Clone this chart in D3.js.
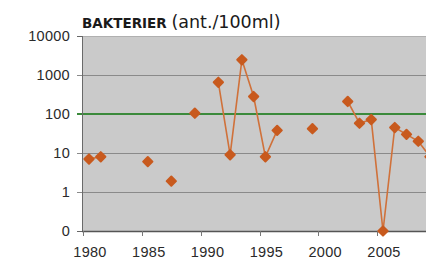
<!DOCTYPE html>
<html>
<head>
<meta charset="utf-8">
<script src="https://cdn.jsdelivr.net/npm/d3@7"></script>
<style>
  body { margin: 0; background: #fff; }
  svg { display: block; }
</style>
</head>
<body>
<div id="chart"></div>
<script>
var years  = [1980, 1981, 1985, 1987, 1989, 1991, 1992, 1993, 1994, 1995, 1996, 1999, 2002, 2003, 2004, 2005, 2006, 2007, 2008, 2009];
var values = [7, 8, 6, 1.9, 105, 650, 9, 2450, 280, 8, 38, 42, 210, 58, 72, 0, 45, 30, 20, 8];

var yTicks = [0, 1, 10, 100, 1000, 10000];
var xTicks = [1980, 1985, 1990, 1995, 2000, 2005];
var limitValue = 100;

var width = 426;
var height = 264;
var plotLeft = 82, plotTop = 36, plotBottom = 231;

var svg = d3.select("#chart")
            .append("svg")
            .attr("width", width)
            .attr("height", height);

// 0 is drawn on the bottom line, one decade below 1
var floorVal = 0.1;
function yv(d) { return Math.max(d, floorVal); }

var y = d3.scaleLog()
          .domain([floorVal, 10000])
          .range([plotBottom, plotTop]);

var x = d3.scaleLinear()
          .domain([1980, 2005])
          .range([89, 383]);

// plot background
svg.append("rect")
   .attr("x", plotLeft)
   .attr("y", plotTop)
   .attr("width", width - plotLeft)
   .attr("height", plotBottom - plotTop)
   .attr("fill", "#cacaca");

svg.append("line")
   .attr("x1", plotLeft).attr("x2", width)
   .attr("y1", plotTop + 0.5).attr("y2", plotTop + 0.5)
   .attr("stroke", "#b0b0b0");

// gridlines + y ticks
svg.selectAll(".grid")
   .data(yTicks.filter(function(d) { return d > 0 && d < 10000 && d != limitValue; }))
   .enter()
   .append("line")
   .attr("class", "grid")
   .attr("x1", plotLeft - 5)
   .attr("x2", width)
   .attr("y1", function(d) { return Math.round(y(yv(d))) + 0.5; })
   .attr("y2", function(d) { return Math.round(y(yv(d))) + 0.5; })
   .attr("stroke", "#8a8a8a")
   .attr("stroke-width", 1);

svg.selectAll(".ytick")
   .data([0, 10000])
   .enter()
   .append("line")
   .attr("x1", plotLeft - 5)
   .attr("x2", plotLeft)
   .attr("y1", function(d) { return Math.round(y(yv(d))) + 0.5; })
   .attr("y2", function(d) { return Math.round(y(yv(d))) + 0.5; })
   .attr("stroke", "#666");

// green limit line
svg.append("line")
   .attr("x1", plotLeft - 5)
   .attr("x2", width)
   .attr("y1", y(limitValue))
   .attr("y2", y(limitValue))
   .attr("stroke", "#3b8a3b")
   .attr("stroke-width", 2);

// axes lines
svg.append("line")
   .attr("x1", plotLeft + 0.5).attr("x2", plotLeft + 0.5)
   .attr("y1", plotTop).attr("y2", plotBottom + 1)
   .attr("stroke", "#6a6a6a");
svg.append("line")
   .attr("x1", plotLeft).attr("x2", width)
   .attr("y1", plotBottom + 0.5).attr("y2", plotBottom + 0.5)
   .attr("stroke", "#555")
   .attr("stroke-width", 1.5);

// x ticks sit half a year before the label
svg.selectAll(".xtick")
   .data(xTicks)
   .enter()
   .append("line")
   .attr("x1", function(d) { return Math.round(x(d - 0.5)) + 0.5; })
   .attr("x2", function(d) { return Math.round(x(d - 0.5)) + 0.5; })
   .attr("y1", plotBottom)
   .attr("y2", plotBottom + 5)
   .attr("stroke", "#777");

svg.selectAll(".ylab")
   .data(yTicks)
   .enter()
   .append("text")
   .attr("x", 70)
   .attr("y", function(d) { return y(yv(d)) + 5; })
   .attr("text-anchor", "end")
   .attr("font-family", "Liberation Sans, Arial, sans-serif")
   .attr("font-size", 14.5)
   .attr("letter-spacing", 0.3)
   .attr("fill", "#2a2a2a")
   .text(function(d) { return d; });

svg.selectAll(".xlab")
   .data(xTicks)
   .enter()
   .append("text")
   .attr("x", function(d) { return x(d) + 1; })
   .attr("y", 257)
   .attr("text-anchor", "middle")
   .attr("font-family", "Liberation Sans, Arial, sans-serif")
   .attr("font-size", 14.5)
   .attr("letter-spacing", 0.3)
   .attr("fill", "#2a2a2a")
   .text(function(d) { return d; });

// title
var title = svg.append("text")
   .attr("x", plotLeft)
   .attr("y", 28)
   .attr("font-family", "DejaVu Sans, sans-serif")
   .attr("fill", "#1a1a1a");
title.append("tspan")
   .attr("font-weight", "bold")
   .attr("font-size", 13.5)
   .text("BAKTERIER ");
title.append("tspan")
   .attr("font-size", 17.5)
   .text("(ant./100ml)");

// data: line segments only between consecutive years
var pts = years.map(function(d, i) { return { year: d, val: values[i] }; });
var segs = [];
pts.forEach(function(p, i) {
  if (i > 0 && p.year - pts[i - 1].year == 1) {
    segs[segs.length - 1].push(p);
  } else {
    segs.push([p]);
  }
});

var line = d3.line()
             .x(function(d) { return x(d.year); })
             .y(function(d) { return y(yv(d.val)); });

svg.append("clipPath")
   .attr("id", "clip")
   .append("rect")
   .attr("x", plotLeft).attr("y", plotTop - 10)
   .attr("width", width - plotLeft).attr("height", plotBottom - plotTop + 20);

var plot = svg.append("g").attr("clip-path", "url(#clip)");

plot.selectAll(".seg")
    .data(segs.filter(function(s) { return s.length > 1; }))
    .enter()
    .append("path")
    .attr("d", line)
    .attr("fill", "none")
    .attr("stroke", "#d0713a")
    .attr("stroke-width", 1.6);

plot.selectAll(".pt")
    .data(pts)
    .enter()
    .append("path")
    .attr("d", d3.symbol().type(d3.symbolDiamond2).size(55))
    .attr("transform", function(d) { return "translate(" + x(d.year) + "," + y(yv(d.val)) + ")"; })
    .attr("fill", "#c85a1e")
    .attr("stroke", "#c85a1e")
    .attr("stroke-width", 2)
    .attr("stroke-linejoin", "round");
</script>
</body>
</html>
